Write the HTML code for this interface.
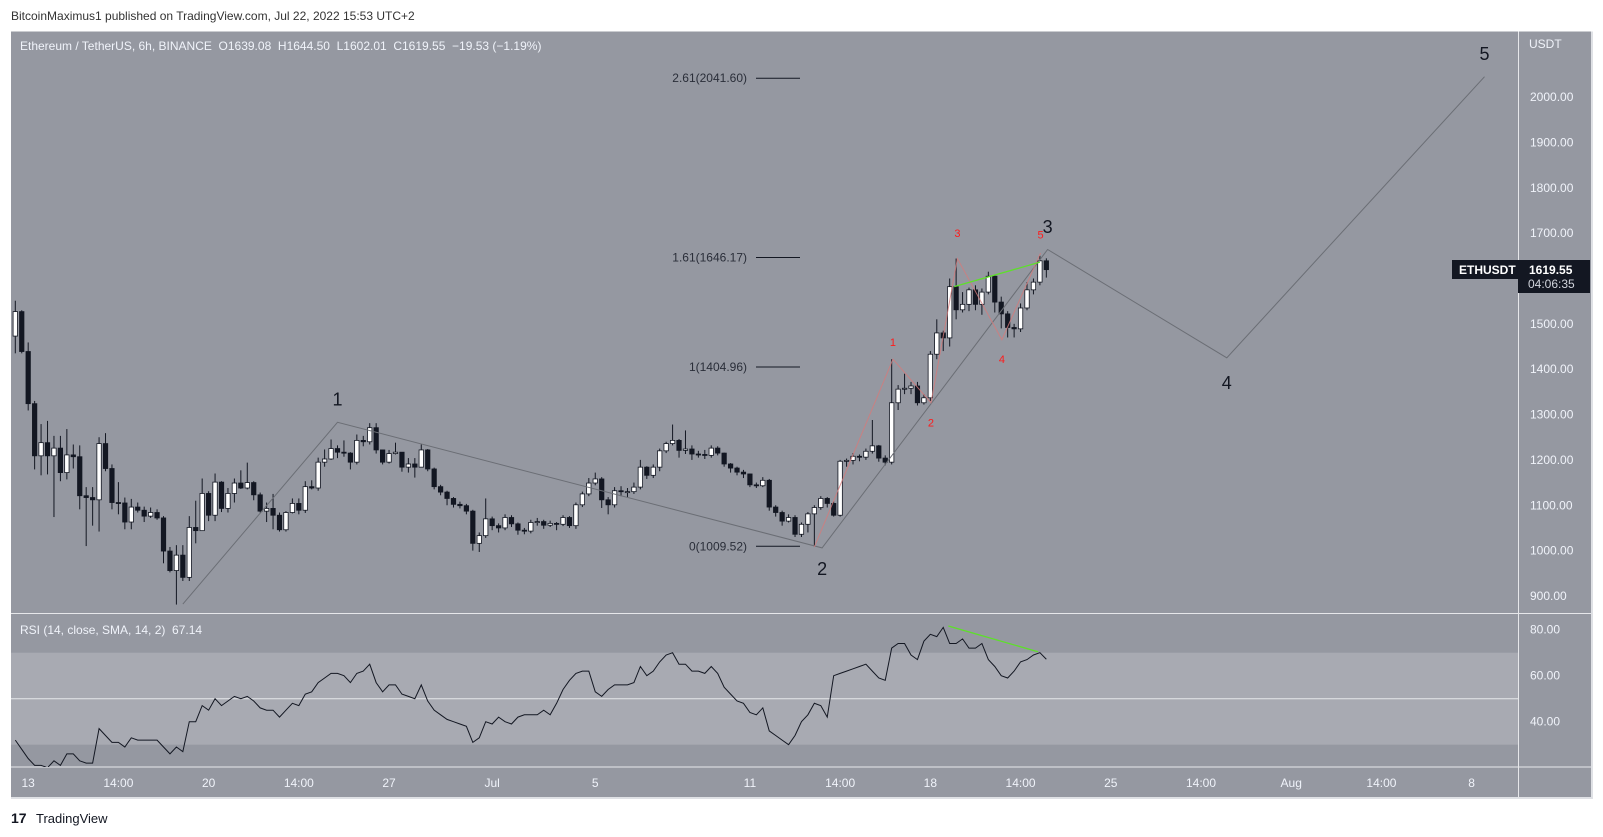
<!DOCTYPE html>
<html><head><meta charset="utf-8"><style>
html,body{margin:0;padding:0;background:#fff;}
svg{display:block;font-family:"Liberation Sans",sans-serif;}
.pre{white-space:pre;}
</style></head><body>
<svg id="chart" width="1603" height="837" viewBox="0 0 1603 837" xmlns="http://www.w3.org/2000/svg">
<defs>
<clipPath id="pclip"><rect x="11" y="32" width="1507" height="581"/></clipPath>
<clipPath id="rclip"><rect x="11" y="614" width="1507" height="153"/></clipPath>
</defs>
<text x="11" y="20" font-size="12" fill="#333">BitcoinMaximus1 published on TradingView.com, Jul 22, 2022 15:53 UTC+2</text>
<rect x="11" y="31.5" width="1580" height="766" fill="#9598a1"/>
<rect x="11" y="652.7" width="1507" height="92" fill="#a8aab2"/>
<line x1="11" y1="698.7" x2="1518" y2="698.7" stroke="#e6e7ea" stroke-width="1"/>
<line x1="11" y1="613.5" x2="1591" y2="613.5" stroke="#e6e7ea"/>
<line x1="11" y1="767" x2="1591" y2="767" stroke="#e6e7ea"/>
<line x1="1518.5" y1="31.5" x2="1518.5" y2="797" stroke="#e6e7ea"/>
<rect x="1591" y="31.5" width="2" height="766" fill="#dfe1e5"/>
<rect x="11" y="797" width="1582" height="2" fill="#dfe1e5"/>
<g id="price-axis"></g>
<g id="time-axis"></g>
<g id="fib"></g>
<g id="candles" clip-path="url(#pclip)"></g>
<g id="waves" clip-path="url(#pclip)"></g>
<g id="rsi" clip-path="url(#rclip)"></g>
<text class="pre" x="20" y="50" font-size="12" fill="#f0f3fa">Ethereum / TetherUS, 6h, BINANCE  O1639.08  H1644.50  L1602.01  C1619.55  −19.53 (−1.19%)</text>
<text class="pre" x="20" y="634" font-size="12" fill="#f0f3fa">RSI (14, close, SMA, 14, 2)  67.14</text>
<text x="1529" y="48" font-size="12" fill="#f0f3fa">USDT</text>
<rect x="1452" y="260" width="66" height="19" fill="#131722"/>
<text x="1459" y="274" font-size="12" font-weight="bold" fill="#fff">ETHUSDT</text>
<rect x="1518" y="260" width="72" height="33" fill="#131722"/>
<text x="1529" y="274" font-size="12" font-weight="bold" fill="#fff">1619.55</text>
<text x="1528" y="288" font-size="12" fill="#d1d4dc">04:06:35</text>
<text x="11" y="823" font-size="14" font-weight="bold" fill="#131722">17</text>
<text x="36" y="823" font-size="13" fill="#131722">TradingView</text>
</svg>
<script>
const firstOpen = 1473;
const closes = [1527,1439,1324,1209,1238,1209,1226,1172,1211,1207,
1121,1117,1112,1236,1181,1106,1105,1063,1096,1089,
1076,1084,1072,999,956,990,941,1051,1044,1126,
1078,1151,1093,1126,1149,1138,1150,1123,1087,1093,
1078,1046,1084,1104,1089,1141,1138,1195,1202,1225,
1217,1215,1195,1243,1240,1271,1222,1195,1214,1217,
1184,1191,1184,1222,1180,1141,1129,1115,1102,1099,
1087,1016,1033,1070,1055,1050,1073,1059,1045,1043,
1062,1064,1056,1060,1058,1073,1055,1101,1125,1149,
1158,1112,1101,1132,1130,1130,1140,1184,1166,1184,
1220,1236,1243,1221,1224,1213,1212,1210,1226,1215,
1191,1182,1173,1169,1145,1143,1155,1096,1084,1065,
1073,1036,1058,1081,1095,1115,1104,1078,1197,1199,
1208,1206,1219,1231,1204,1195,1326,1356,1358,1363,
1326,1337,1433,1480,1469,1582,1531,1543,1575,1543,
1570,1605,1548,1522,1492,1489,1535,1575,1592,1639,1619.55];
const highs = [1551,1530,1459,1330,1279,1286,1253,1253,1268,1234,
1232,1140,1140,1250,1259,1190,1151,1117,1114,1106,
1097,1095,1091,1076,1008,1012,1012,1076,1110,1159,
1131,1170,1153,1138,1159,1177,1194,1153,1128,1106,
1125,1084,1087,1115,1115,1153,1155,1205,1223,1245,
1232,1243,1217,1256,1253,1281,1281,1222,1222,1238,
1217,1204,1204,1234,1224,1183,1145,1132,1118,1108,
1103,1090,1040,1115,1075,1060,1080,1078,1062,1050,
1068,1072,1068,1066,1063,1078,1076,1106,1130,1160,
1172,1162,1118,1140,1142,1138,1150,1200,1186,1190,
1225,1240,1278,1246,1265,1232,1220,1222,1232,1230,
1216,1193,1185,1178,1170,1150,1162,1158,1100,1088,
1080,1078,1062,1085,1100,1120,1118,1108,1200,1203,
1215,1212,1225,1288,1233,1210,1422,1365,1390,1372,
1372,1345,1440,1510,1485,1600,1644,1570,1580,1585,
1578,1615,1608,1560,1528,1500,1545,1592,1600,1650,1644.5];
const lows = [1435,1435,1309,1179,1166,1168,1074,1153,1157,1181,
1091,1010,1055,1042,1175,1091,1080,1047,1047,1084,
1063,1072,1068,972,952,881,933,933,1016,1044,
1065,1065,1085,1084,1106,1136,1135,1111,1084,1063,
1047,1042,1042,1082,1080,1083,1135,1132,1185,1200,
1204,1207,1179,1190,1230,1234,1214,1190,1192,1212,
1174,1172,1161,1184,1175,1135,1122,1100,1095,1093,
1080,1000,997,1028,1045,1040,1045,1052,1035,1036,
1038,1055,1048,1052,1045,1054,1050,1048,1096,1120,
1144,1094,1080,1095,1120,1118,1125,1135,1158,1160,
1175,1215,1232,1205,1213,1200,1205,1202,1205,1210,
1185,1172,1166,1160,1140,1138,1140,1088,1075,1055,
1062,1030,1030,1040,1009.5,1090,1095,1075,1075,1185,
1190,1197,1200,1214,1196,1188,1190,1310,1345,1345,
1320,1322,1330,1422,1440,1450,1510,1525,1528,1530,
1520,1565,1525,1490,1470,1470,1482,1530,1565,1585,1602];
const rsiValues = [32,28,24,21,21,20,23,21,26,26,
23,22,22,37,34,31,31,29,33,32,
32,32,32,29,26,29,27,40,40,47,
45,50,47,49,51,50,51,49,46,45,
45,42,45,48,47,52,53,57,59,61,
61,60,57,61,62,65,57,53,56,56,
52,51,50,56,49,45,43,41,40,39,
38,31,33,40,39,42,40,39,42,43,
43,43,45,43,48,54,58,61,62,62,
53,51,54,56,56,56,57,64,60,62,
66,69,70,65,65,62,62,61,64,61,
55,52,49,48,44,43,46,36,34,32,
30,34,40,43,48,47,42,60,61,62,
63,64,65,62,59,58,72,74,74,69,
67,75,78,77,81,74,74,76,72,72,
74,67,64,60,59,62,66,67,69,70,67.14];
const priceTicks = [2000,1900,1800,1700,1600,1500,1400,1300,1200,1100,1000,900];
const rsiTicks = [80,60,40];
const timeLabels = ["13","14:00","20","14:00","27","Jul","5","11","14:00","18","14:00","25","14:00","Aug","14:00","8"];
const timeLabelDays = [0,3.5,7,10.5,14,18,22,28,31.5,35,38.5,42,45.5,49,52.5,56];
const fibLabels = ["2.61(2041.60)","1.61(1646.17)","1(1404.96)","0(1009.52)"];
const fibPrices = [2041.60,1646.17,1404.96,1009.52];
const waveLabels = ["1","2","3","4","5"];
const waveIdx = [26,50,125.2,160.2,188,228];
const wavePrices = [882,1283,1006,1664,1425,2045];
const subWaveIdx = [124,136.2,142.1,146.2,153.1,159.1];
const subWavePrices = [1008,1422,1326,1644,1465,1656];
const greenPriceIdx = [145.7,159];
const greenPrice = [1582,1636];
const greenRsiIdx = [144.8,158.7];
const greenRsi = [81.6,70.4];

const NS="http://www.w3.org/2000/svg";
function xOf(i){return 15.3+i*6.444;}
function yP(p){return 97.1+(2000-p)*0.4535;}
function yR(v){return 629.7+(80-v)*2.3;}
function mk(tag,attrs,parent){const e=document.createElementNS(NS,tag);for(const k in attrs)e.setAttribute(k,attrs[k]);parent.appendChild(e);return e;}

const pa=document.getElementById('price-axis');
priceTicks.forEach(p=>{const t=mk('text',{x:1530,y:yP(p)+4,'font-size':12,fill:'#f0f3fa'},pa);t.textContent=p.toFixed(2);

});
rsiTicks.forEach(v=>{const t=mk('text',{x:1530,y:yR(v)+4,'font-size':12,fill:'#f0f3fa'},pa);t.textContent=v.toFixed(2);

});
const ta=document.getElementById('time-axis');
timeLabels.forEach((s,k)=>{const t=mk('text',{x:xOf(2+4*timeLabelDays[k]),y:787,'font-size':12,fill:'#f0f3fa','text-anchor':'middle'},ta);t.textContent=s;

});

const fg=document.getElementById('fib');
fibPrices.forEach((p,k)=>{const y=yP(p);
const l=mk('line',{x1:756,y1:y,x2:800,y2:y,stroke:'#131722','stroke-width':1},fg);


const t=mk('text',{x:747,y:y+4,'font-size':12,fill:'#2a2e39','text-anchor':'end'},fg);t.textContent=fibLabels[k];

});

const cg=document.getElementById('candles');
let prev=firstOpen;
closes.forEach((c,i)=>{const o=prev;prev=c;const x=xOf(i);
const h=Math.max(highs[i],o,c),l=Math.min(lows[i],o,c);const up=c>=o;
const w=mk('line',{x1:x,y1:yP(h),x2:x,y2:yP(l),stroke:'#131722','stroke-width':1},cg);


const top=yP(Math.max(o,c)),bh=Math.max(1,yP(Math.min(o,c))-top);
const b=mk('rect',{x:x-2.2,y:top,width:4.4,height:bh,fill:up?'#ffffff':'#131722',stroke:'#131722','stroke-width':0.8},cg);

});

const wg=document.getElementById('waves');
const wp=mk('polyline',{points:waveIdx.map((i,k)=>xOf(i)+','+yP(wavePrices[k])).join(' '),fill:'none',stroke:'#6b6e75','stroke-width':1},wg);


const waveLabelPos=[[50,1335],[125.2,962],[160.2,1716],[188,1372],[228,2097]];
waveLabels.forEach((s,k)=>{const t=mk('text',{x:xOf(waveLabelPos[k][0]),y:yP(waveLabelPos[k][1])+7,'font-size':18,fill:'#131722','text-anchor':'middle'},wg);t.textContent=s;

});
const sp=mk('polyline',{points:subWaveIdx.map((i,k)=>xOf(i)+','+yP(subWavePrices[k])).join(' '),fill:'none',stroke:'#d67a7a','stroke-width':1,opacity:0.8},wg);


const subLabelPrices=[1460,1282,1700,1422,1697];
waveLabels.forEach((s,k)=>{const t=mk('text',{x:xOf(subWaveIdx[k+1]),y:yP(subLabelPrices[k])+4,'font-size':11,fill:'#ff1a1a','text-anchor':'middle'},wg);t.textContent=s;

});
const gl=mk('line',{x1:xOf(greenPriceIdx[0]),y1:yP(greenPrice[0]),x2:xOf(greenPriceIdx[1]),y2:yP(greenPrice[1]),stroke:'#5ee02a','stroke-width':1.3},wg);



const rg=document.getElementById('rsi');
const rl=mk('polyline',{points:rsiValues.map((v,i)=>xOf(i)+','+yR(v)).join(' '),fill:'none',stroke:'#131722','stroke-width':1},rg);


const rgl=mk('line',{x1:xOf(greenRsiIdx[0]),y1:yR(greenRsi[0]),x2:xOf(greenRsiIdx[1]),y2:yR(greenRsi[1]),stroke:'#5ee02a','stroke-width':1.3},rg);


</script>
</body></html>
